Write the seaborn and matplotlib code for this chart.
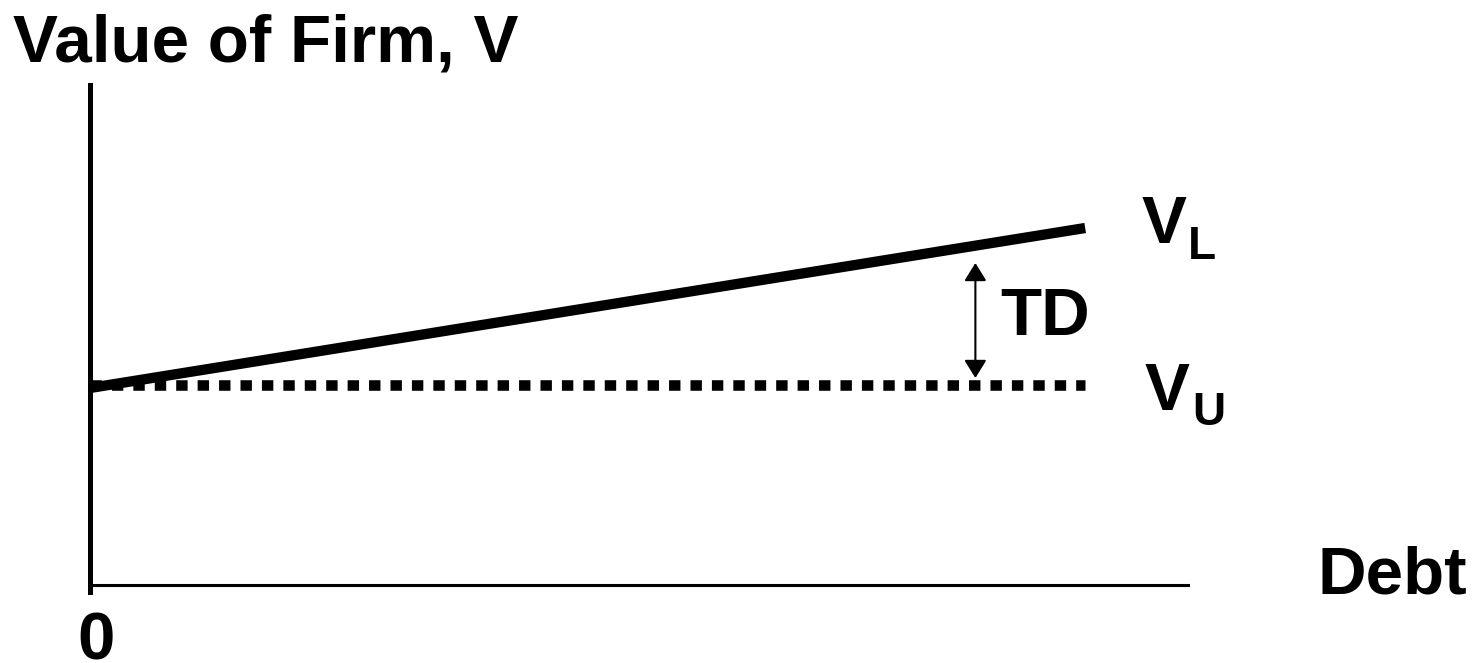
import matplotlib
matplotlib.use("Agg")
import matplotlib.pyplot as plt
import seaborn as sns
import pandas as pd

# ---- data (abstract units) ----
debt = [0, 9.97]
v_levered = [3.94, 7.14]
v_unlevered = [4.0, 4.0]
td_debt = 8.87
td_range = [4.14, 6.44]

title_text = "Value of Firm, V"
x_label = "Debt"
origin_label = "0"

sns.set_style("white")
plt.rcParams["font.family"] = ["Liberation Sans", "DejaVu Sans"]
plt.rcParams["font.weight"] = "bold"

W, H = 1475, 663
fig = plt.figure(figsize=(W / 100, H / 100), dpi=100)

def fx(px):
    return px / W

def fy(py):
    return 1 - py / H

# axes: left spine at x=90px, bottom at y=592px, top at 85px, right at 1188px
ax = fig.add_axes([fx(90), fy(592), fx(1188) - fx(90), fy(85) - fy(592)])
ax.set_xlim(0, 11)
ax.set_ylim(-0.14, 10)

df_l = pd.DataFrame({"Debt": debt, "V": v_levered})
df_u = pd.DataFrame({"Debt": debt, "V": v_unlevered})

sns.lineplot(data=df_l, x="Debt", y="V", ax=ax, color="black", lw=7.4,
             solid_capstyle="butt")
sns.lineplot(data=df_u, x="Debt", y="V", ax=ax, color="black", lw=7.6)
ax.lines[-1].set_linestyle((0, (1.08, 0.95)))
ax.lines[-1].set_dash_capstyle("butt")

ax.annotate("", xy=(td_debt, td_range[1]), xytext=(td_debt, td_range[0]),
            arrowprops=dict(arrowstyle="<|-|>,head_length=0.42,head_width=0.26",
                            mutation_scale=26, lw=1.5, color="black",
                            shrinkA=0, shrinkB=0))

for s in ["top", "right"]:
    ax.spines[s].set_visible(False)
ax.spines["left"].set_linewidth(3.6)
ax.spines["left"].set_color("black")
ax.spines["bottom"].set_linewidth(2.2)
ax.spines["bottom"].set_color("black")
ax.spines["bottom"].set_position(("data", 0))
ax.set_xticks([])
ax.set_yticks([])
ax.set_xlabel("")
ax.set_ylabel("")
ax.patch.set_alpha(0)

big = 48.5
sub = 33
kw = dict(fontweight="bold", color="black", va="baseline", ha="left")
fig.text(fx(13), fy(62), title_text, fontsize=big, **kw)
fig.text(fx(1142), fy(243), "V", fontsize=big, **kw)
fig.text(fx(1188), fy(259), "L", fontsize=sub, **kw)
fig.text(fx(1145), fy(410), "V", fontsize=big, **kw)
fig.text(fx(1192), fy(425), "U", fontsize=sub, **kw)
fig.text(fx(1000), fy(335), "TD", fontsize=big, **kw)
fig.text(fx(1317), fy(593), x_label, fontsize=big, **kw)
fig.text(fx(77), fy(659), origin_label, fontsize=big, **kw)

fig.savefig("out.png", dpi=100)
